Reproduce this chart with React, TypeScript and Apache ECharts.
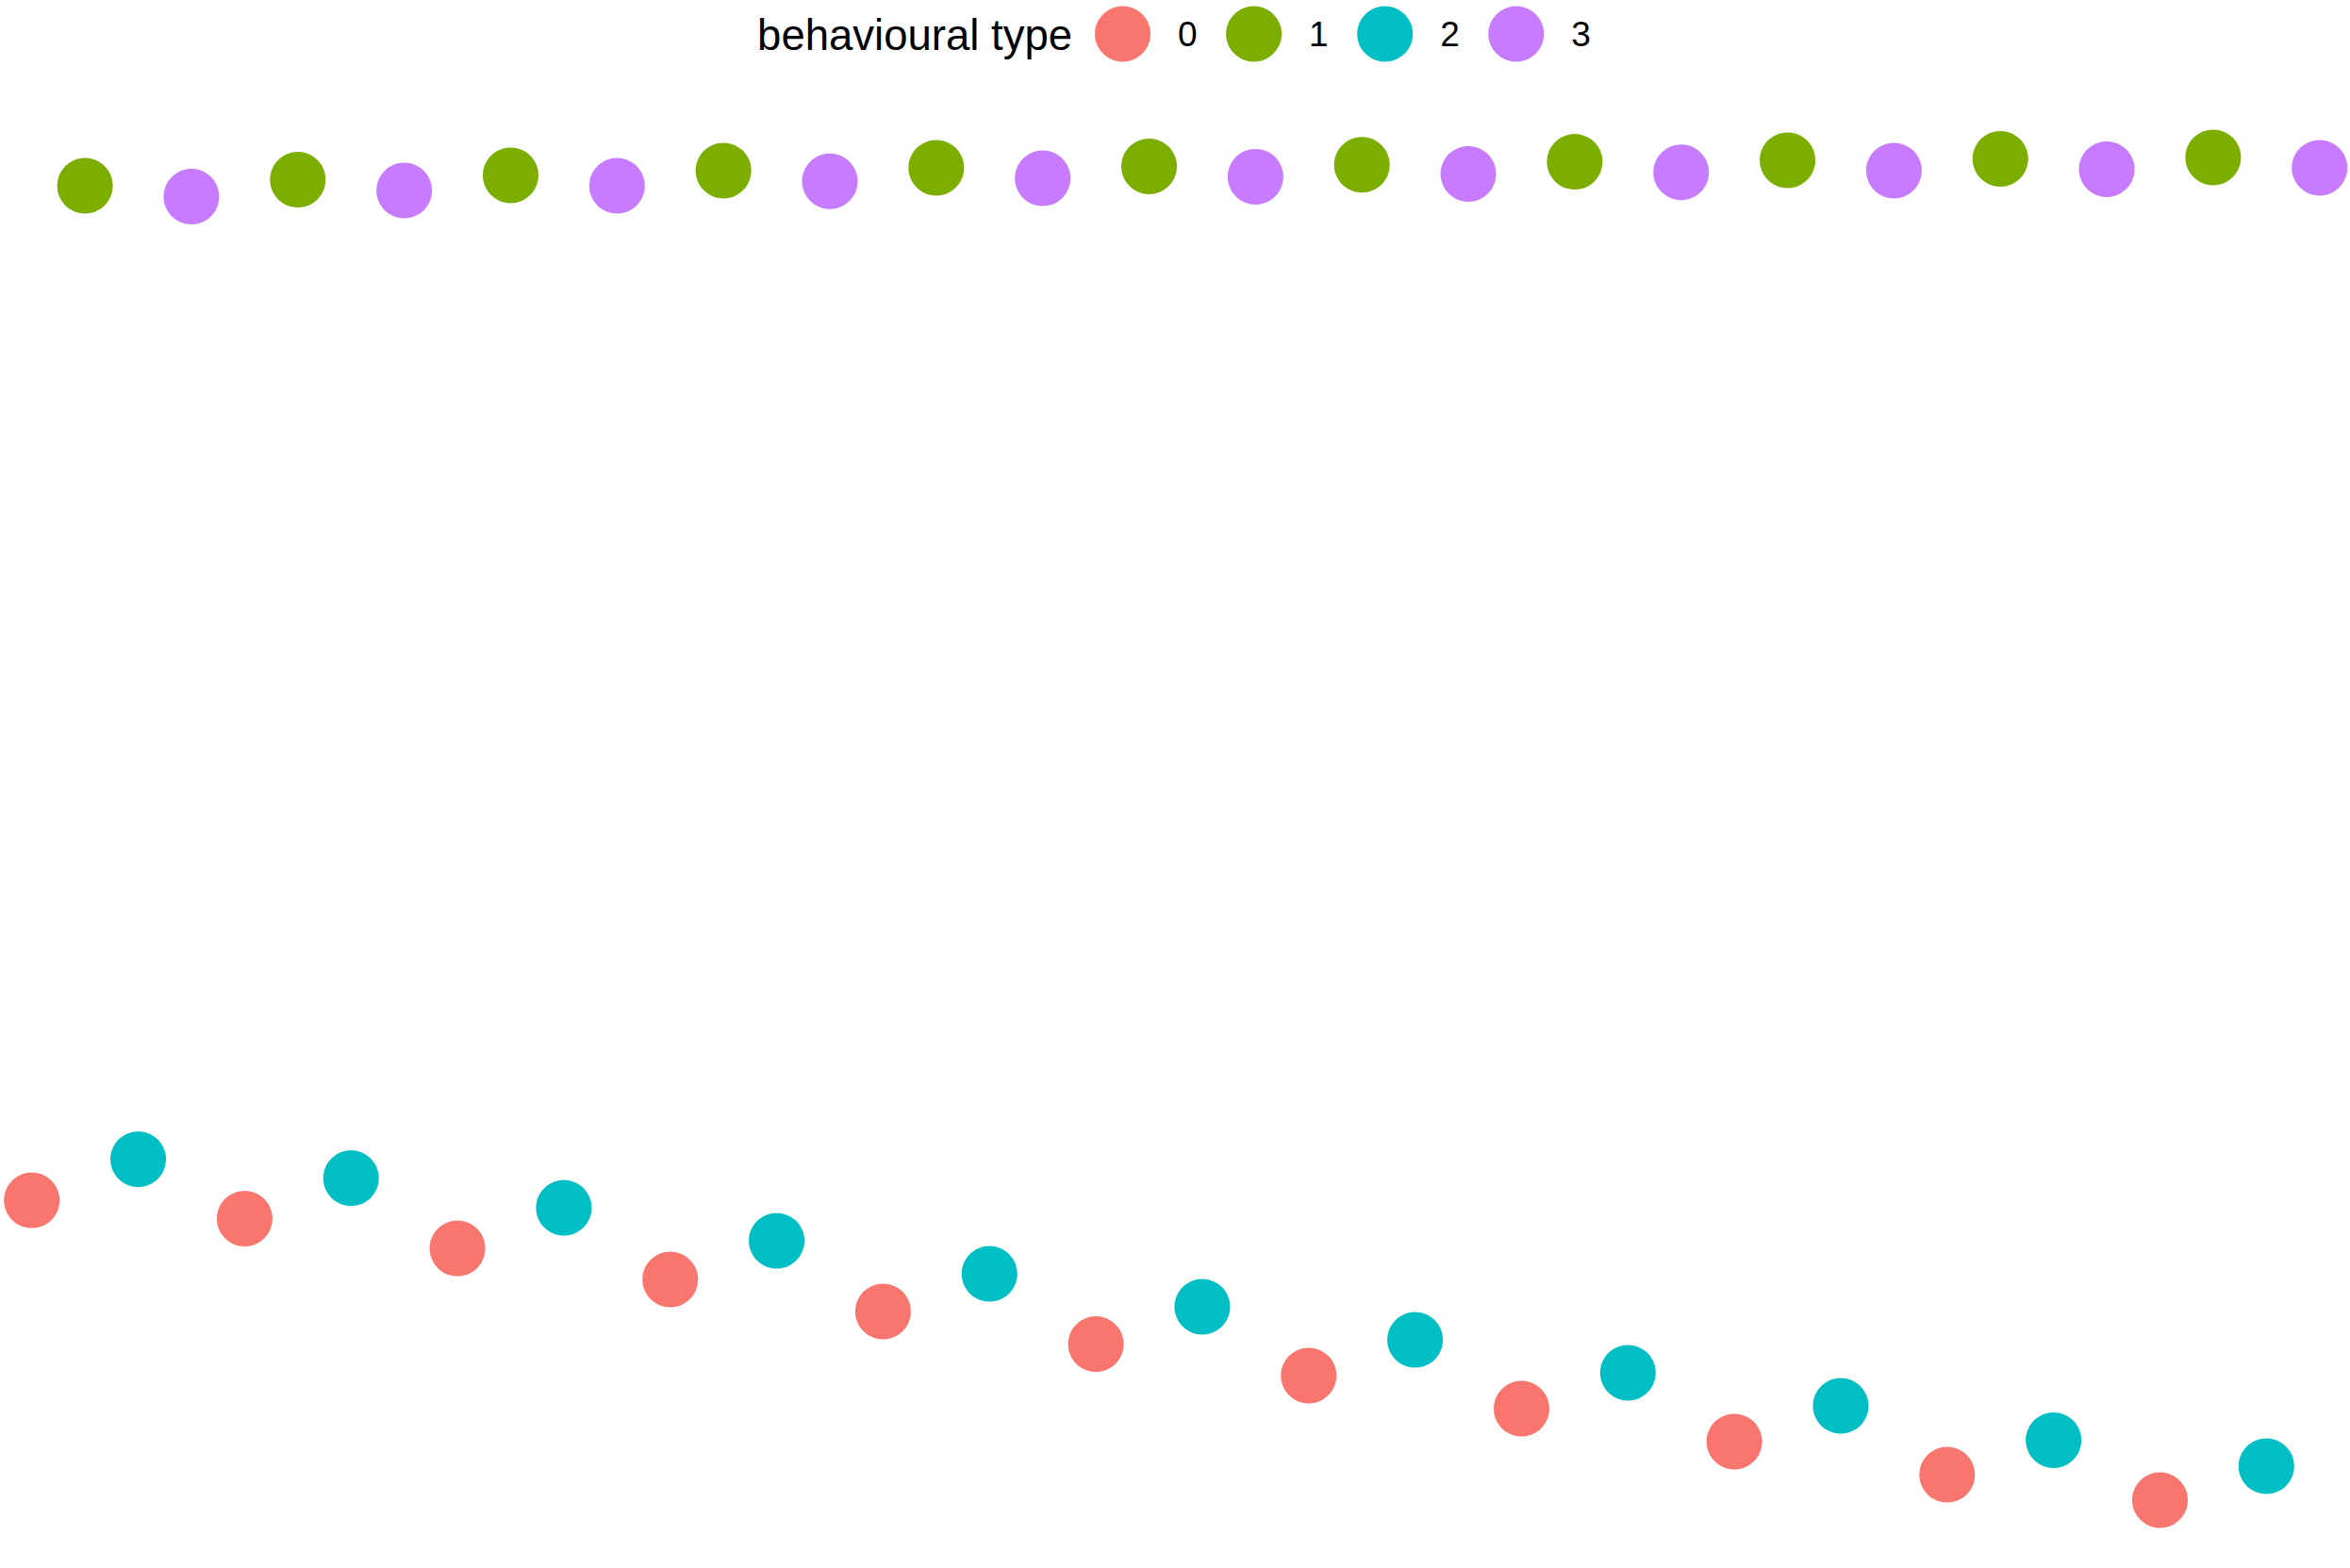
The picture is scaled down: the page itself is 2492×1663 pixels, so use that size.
import React, { useEffect, useRef } from "react";
import * as echarts from "echarts";

// behavioural type groups
const typeNames = ["0", "1", "2", "3"];
const typeColors = ["#F8766D", "#7CAE00", "#00BFC4", "#C77CFF"];

// x positions (index of observation)
const xType0 = [1, 5, 9, 13, 17, 21, 25, 29, 33, 37, 41];
const xType1 = [2, 6, 10, 14, 18, 22, 26, 30, 34, 38, 42];
const xType2 = [3, 7, 11, 15, 19, 23, 27, 31, 35, 39, 43];
const xType3 = [4, 8, 12, 16, 20, 24, 28, 32, 36, 40, 44];

// y values
const yType0 = [2.345, 2.228, 2.038, 1.84, 1.636, 1.428, 1.227, 1.016, 0.806, 0.595, 0.433];
const yType1 = [8.815, 8.854, 8.882, 8.912, 8.93, 8.939, 8.949, 8.968, 8.978, 8.987, 8.996];
const yType2 = [2.607, 2.486, 2.297, 2.087, 1.876, 1.666, 1.455, 1.245, 1.034, 0.815, 0.649];
const yType3 = [8.746, 8.785, 8.815, 8.844, 8.863, 8.873, 8.891, 8.901, 8.912, 8.921, 8.93];

const xs = [xType0, xType1, xType2, xType3];
const ys = [yType0, yType1, yType2, yType3];

const FONT = "'Liberation Sans', Arial, Helvetica, sans-serif";

export default function App() {
  const ref = useRef<HTMLDivElement>(null);

  useEffect(() => {
    if (!ref.current) return;
    const chart = echarts.init(ref.current, undefined, { renderer: "svg" });
    const series = typeNames.map((name, i) => ({
      name,
      type: "scatter",
      symbol: "circle",
      symbolSize: 59,
      itemStyle: { color: typeColors[i], opacity: 1 },
      data: xs[i].map((x, j) => [x, ys[i][j]]),
    }));
    chart.setOption({
      animation: false,
      backgroundColor: "#ffffff",
      color: typeColors,
      grid: { left: 0, right: 0, top: 0, bottom: 0, containLabel: false },
      xAxis: {
        type: "value",
        min: 0.4027,
        max: 44.572,
        show: false,
        splitLine: { show: false },
      },
      yAxis: {
        type: "value",
        min: 0,
        max: 10,
        show: false,
        splitLine: { show: false },
      },
      legend: {
        data: typeNames,
        orient: "horizontal",
        left: 1161,
        top: 6.5,
        icon: "circle",
        itemWidth: 59,
        itemHeight: 59,
        itemGap: 30.5,
        padding: 0,
        selectedMode: false,
        formatter: "{a|{name}}",
        textStyle: {
          color: "#000000",
          fontFamily: FONT,
          fontSize: 37,
          rich: {
            a: {
              fontFamily: FONT,
              fontSize: 37,
              color: "#000000",
              padding: [0, 0, 0, 24],
            },
          },
        },
      },
      graphic: [
        {
          type: "text",
          x: 1137,
          y: 37.5,
          style: {
            text: "behavioural type",
            fill: "#000000",
            font: `45.5px ${FONT}`,
            align: "right",
            verticalAlign: "middle",
          },
        },
      ],
      series,
    });
    return () => chart.dispose();
  }, []);

  return (
    <div
      ref={ref}
      style={{ position: "fixed", left: 0, top: 0, width: "2492px", height: "1663px" }}
    />
  );
}
